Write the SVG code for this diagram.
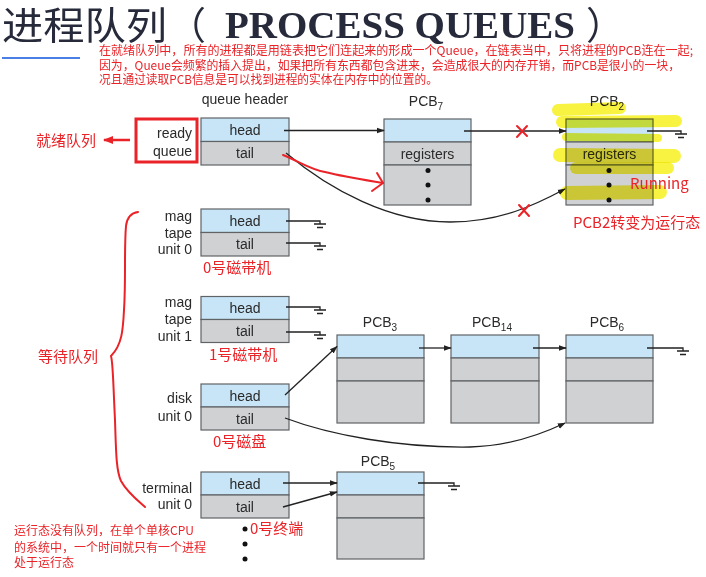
<svg xmlns="http://www.w3.org/2000/svg" width="706" height="577" viewBox="0 0 706 577">
<defs>
<style>
.t{font-family:"Liberation Sans",Arial,sans-serif;font-size:14px;fill:#2a2a2a}
.c{text-anchor:middle}
.e{text-anchor:end}
.hd{fill:#c8e5f7;stroke:#5f6366;stroke-width:1.2}
.gy{fill:#d0d1d3;stroke:#5f6366;stroke-width:1.2}
.ln{fill:none;stroke:#222;stroke-width:1.3}
.gnd{fill:none;stroke:#222;stroke-width:1.3}
.red{font-family:"Noto Sans CJK SC","Liberation Sans",sans-serif;fill:#ea2328}
.rl{fill:none;stroke:#ea2328;stroke-width:2;stroke-linecap:round;stroke-linejoin:round}
.dot{fill:#111}
.hl{fill:none;stroke:#f5ee00;stroke-opacity:0.75;stroke-linecap:round;mix-blend-mode:multiply}
.ttl{font-family:"Noto Sans CJK SC",sans-serif;font-size:38px;fill:#262a3a}
</style>
<marker id="ah" viewBox="0 0 10 10" refX="9" refY="5" markerWidth="8" markerHeight="8" markerUnits="userSpaceOnUse" orient="auto">
<path d="M0,1.5 L10,5 L0,8.5 Z" fill="#222"/>
</marker>
<marker id="rah" viewBox="0 0 10 10" refX="9" refY="5" markerWidth="10" markerHeight="10" markerUnits="userSpaceOnUse" orient="auto">
<path d="M0,1 L10,5 L0,9 Z" fill="#ea2328"/>
</marker>
</defs>
<rect width="706" height="577" fill="#ffffff"/>

<!-- Title -->
<g id="title">
<text class="ttl" x="2" y="39" textLength="165" lengthAdjust="spacingAndGlyphs">进程队列</text>
<text class="ttl" x="168" y="39">（</text>
<text x="225" y="38" font-family="'Liberation Serif','Times New Roman',serif" font-size="38" font-weight="bold" fill="#262a3a" textLength="350" lengthAdjust="spacingAndGlyphs">PROCESS QUEUES</text>
<text class="ttl" x="586" y="39">）</text>
<line x1="2" y1="58" x2="80" y2="58" stroke="#4a80e6" stroke-width="2"/>
</g>

<g id="note-top" class="red" font-size="12.3">
<text x="99" y="54.5" textLength="594" lengthAdjust="spacingAndGlyphs">在就绪队列中，所有的进程都是用链表把它们连起来的形成一个Queue，在链表当中，只将进程的PCB连在一起;</text>
<text x="99" y="69.5" textLength="581" lengthAdjust="spacingAndGlyphs">因为，Queue会频繁的插入提出，如果把所有东西都包含进来，会造成很大的内存开销，而PCB是很小的一块，</text>
<text x="99" y="84" textLength="339" lengthAdjust="spacingAndGlyphs">况且通过读取PCB信息是可以找到进程的实体在内存中的位置的。</text>
</g>

<text class="t c" x="245" y="104">queue header</text>

<!-- ready queue -->
<g id="ready-queue">
<rect class="hd" x="201" y="118" width="88" height="23.5"/>
<rect class="gy" x="201" y="141.5" width="88" height="23.5"/>
<text class="t c" x="245" y="135">head</text>
<text class="t c" x="245" y="158">tail</text>
<text class="t e" x="192" y="138">ready</text>
<text class="t e" x="192" y="156">queue</text>
</g>

<!-- PCB7 -->
<g id="pcb7">
<text class="t c" x="426" y="106">PCB<tspan font-size="10" dy="4">7</tspan></text>
<rect class="hd" x="384" y="119" width="87" height="23"/>
<rect class="gy" x="384" y="142" width="87" height="23"/>
<rect class="gy" x="384" y="165" width="87" height="40"/>
<text class="t c" x="427.5" y="159">registers</text>
<circle class="dot" cx="428" cy="170.5" r="2.5"/>
<circle class="dot" cx="428" cy="185" r="2.5"/>
<circle class="dot" cx="428" cy="200" r="2.5"/>
</g>

<!-- PCB2 -->
<g id="pcb2">
<text class="t c" x="607" y="106">PCB<tspan font-size="10" dy="4">2</tspan></text>
<rect class="hd" x="566" y="119" width="87" height="23"/>
<rect class="gy" x="566" y="142" width="87" height="23"/>
<rect class="gy" x="566" y="165" width="87" height="40"/>
<text class="t c" x="609.5" y="159">registers</text>
<circle class="dot" cx="609" cy="170.5" r="2.5"/>
<circle class="dot" cx="609" cy="185" r="2.5"/>
<circle class="dot" cx="609" cy="200" r="2.5"/>
</g>

<!-- mag tape 0 -->
<g id="mag-tape-0">
<rect class="hd" x="201" y="209" width="88" height="23.5"/>
<rect class="gy" x="201" y="232.5" width="88" height="23.5"/>
<text class="t c" x="245" y="226">head</text>
<text class="t c" x="245" y="249">tail</text>
<text class="t e" x="192" y="221">mag</text>
<text class="t e" x="192" y="237.5">tape</text>
<text class="t e" x="192" y="254">unit 0</text>
</g>

<!-- mag tape 1 -->
<g id="mag-tape-1">
<rect class="hd" x="201" y="296.5" width="88" height="23"/>
<rect class="gy" x="201" y="319.5" width="88" height="23"/>
<text class="t c" x="245" y="313">head</text>
<text class="t c" x="245" y="336">tail</text>
<text class="t e" x="192" y="307">mag</text>
<text class="t e" x="192" y="324">tape</text>
<text class="t e" x="192" y="341">unit 1</text>
</g>

<!-- disk -->
<g id="disk-unit-0">
<rect class="hd" x="201" y="384" width="88" height="23"/>
<rect class="gy" x="201" y="407" width="88" height="23"/>
<text class="t c" x="245" y="400.5">head</text>
<text class="t c" x="245" y="423.5">tail</text>
<text class="t e" x="192" y="403">disk</text>
<text class="t e" x="192" y="421">unit 0</text>
</g>

<!-- terminal -->
<g id="terminal-unit-0">
<rect class="hd" x="201" y="472" width="88" height="23"/>
<rect class="gy" x="201" y="495" width="88" height="23"/>
<text class="t c" x="245" y="488.5">head</text>
<text class="t c" x="245" y="511.5">tail</text>
<text class="t e" x="192" y="493">terminal</text>
<text class="t e" x="192" y="509">unit 0</text>
<circle class="dot" cx="245" cy="529" r="2.5"/>
<circle class="dot" cx="245" cy="544" r="2.5"/>
<circle class="dot" cx="245" cy="559" r="2.5"/>
</g>

<!-- PCB3 -->
<g id="pcb3">
<text class="t c" x="380" y="327">PCB<tspan font-size="10" dy="4">3</tspan></text>
<rect class="hd" x="337" y="335" width="87" height="23"/>
<rect class="gy" x="337" y="358" width="87" height="23"/>
<rect class="gy" x="337" y="381" width="87" height="42"/>
</g>
<!-- PCB14 -->
<g id="pcb14">
<text class="t c" x="492" y="327">PCB<tspan font-size="10" dy="4">14</tspan></text>
<rect class="hd" x="451" y="335" width="88" height="23"/>
<rect class="gy" x="451" y="358" width="88" height="23"/>
<rect class="gy" x="451" y="381" width="88" height="42"/>
</g>
<!-- PCB6 -->
<g id="pcb6">
<text class="t c" x="607" y="327">PCB<tspan font-size="10" dy="4">6</tspan></text>
<rect class="hd" x="566" y="335" width="87" height="23"/>
<rect class="gy" x="566" y="358" width="87" height="23"/>
<rect class="gy" x="566" y="381" width="87" height="42"/>
</g>
<!-- PCB5 -->
<g id="pcb5">
<text class="t c" x="378" y="466">PCB<tspan font-size="10" dy="4">5</tspan></text>
<rect class="hd" x="337" y="472" width="87" height="23"/>
<rect class="gy" x="337" y="495" width="87" height="23"/>
<rect class="gy" x="337" y="518" width="87" height="41"/>
</g>

<!-- connectors -->
<g id="connectors">
<line class="ln" x1="284" y1="130.5" x2="384" y2="130.5" marker-end="url(#ah)"/>
<line class="ln" x1="464" y1="131" x2="566" y2="131" marker-end="url(#ah)"/>
<path class="ln" d="M286,153 C330,190 390,222 450,222 C500,222 535,205 565,189" marker-end="url(#ah)"/>
<path class="gnd" d="M647,131 H681 V134 M675,134 H687 M678,137.5 H684"/>

<path class="gnd" d="M286,221 H320 V224 M314,224 H326 M317,227.5 H323"/>
<path class="gnd" d="M286,243 H320 V246 M314,246 H326 M317,249.5 H323"/>
<path class="gnd" d="M286,307 H320 V310 M314,310 H326 M317,313.5 H323"/>
<path class="gnd" d="M286,332 H320 V335 M314,335 H326 M317,338.5 H323"/>

<line class="ln" x1="285" y1="395" x2="337" y2="346.5" marker-end="url(#ah)"/>
<path class="ln" d="M285,418 C330,435 400,448 470,447 C510,446 540,435 565,423" marker-end="url(#ah)"/>
<line class="ln" x1="419" y1="348" x2="451" y2="348" marker-end="url(#ah)"/>
<line class="ln" x1="533" y1="348" x2="566" y2="348" marker-end="url(#ah)"/>
<path class="gnd" d="M647,348 H683 V351 M677,351 H689 M680,354.5 H686"/>

<line class="ln" x1="283" y1="483" x2="337" y2="483" marker-end="url(#ah)"/>
<line class="ln" x1="283" y1="507" x2="337" y2="492" marker-end="url(#ah)"/>
<path class="gnd" d="M418,483 H454 V486 M448,486 H460 M451,489.5 H457"/>
</g>

<!-- yellow highlighter over PCB2 -->
<g id="highlight">
<path class="hl" stroke-width="12" d="M558,110 L620,108"/>
<path class="hl" stroke-width="12" d="M562,122 L676,121"/>
<path class="hl" stroke-width="8" d="M566,137 L658,138"/>
<path class="hl" stroke-width="14" d="M560,155 L674,156"/>
<path class="hl" stroke-width="12" d="M576,168 L668,168"/>
<path class="hl" stroke-width="14" d="M567,193 L660,192"/>
</g>

<!-- red annotations -->
<g id="annotations">
<rect x="136" y="119" width="61" height="43" fill="none" stroke="#ea2328" stroke-width="3"/>
<line x1="130" y1="140" x2="104" y2="140" stroke="#ea2328" stroke-width="2.5" marker-end="url(#rah)"/>
<text class="red" x="36" y="146" font-size="15">就绪队列</text>
<path class="rl" d="M283,155 C300,162 312,170 325,172 C345,177 365,180 383,183"/>
<path class="rl" d="M377,173 L383,183 L372,191"/>
<path class="rl" d="M517,126 L527,136 M527,126 L517,137"/>
<path class="rl" d="M519,205 L529,216 M529,205 L519,216"/>
<text class="red" x="630" y="189" font-size="15">Running</text>
<text class="red" x="573" y="228" font-size="15">PCB2转变为运行态</text>
<text class="red" x="203" y="273" font-size="15">0号磁带机</text>
<text class="red" x="209" y="360" font-size="15">1号磁带机</text>
<text class="red" x="213" y="447" font-size="15">0号磁盘</text>
<text class="red" x="250" y="534" font-size="15">0号终端</text>
<path class="rl" d="M138,212 C130,213 127,218 126,226 C124,250 126,280 124,310 C123,330 122,345 111,356 C113,362 113,380 115,420 C116,450 116,470 121,481 C127,492 137,500 145,507"/>
<text class="red" x="38" y="362" font-size="15">等待队列</text>
<text class="red" x="14" y="535" font-size="12">运行态没有队列，在单个单核CPU</text>
<text class="red" x="14" y="552" font-size="12">的系统中，一个时间就只有一个进程</text>
<text class="red" x="14" y="567" font-size="12">处于运行态</text>
</g>
</svg>
